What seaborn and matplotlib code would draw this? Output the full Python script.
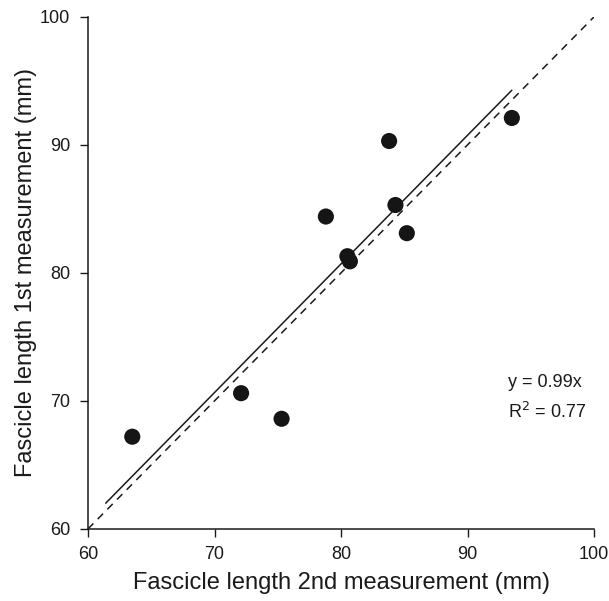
import matplotlib
matplotlib.use("Agg")
import matplotlib.pyplot as plt
import seaborn as sns
import numpy as np
import pandas as pd

# values
second_measure = [63.5, 72.1, 75.3, 78.8, 80.5, 80.7, 83.8, 84.3, 85.2, 93.5]
first_measure = [67.2, 70.6, 68.6, 84.4, 81.3, 80.9, 90.3, 85.3, 83.1, 92.1]
fit_slope = 1.005
fit_intercept = 0.3
fit_range = [61.4, 93.5]
identity_range = [60, 100]
ticks = [60, 70, 80, 90, 100]

sns.set_theme(style="ticks")
plt.rcParams['font.family'] = ['Liberation Sans', 'DejaVu Sans']

df = pd.DataFrame({"second": second_measure, "first": first_measure})

fig = plt.figure(figsize=(6.09, 6.01), dpi=100)
ax = fig.add_axes([0.1445, 0.12, 0.831, 0.852])

fx = np.array(fit_range)
ax.plot(fx, fit_slope * fx + fit_intercept, color="#1a1a1a", lw=1.1)
ax.plot(identity_range, identity_range, color="#1a1a1a", lw=1.1, ls=(0, (5, 4)))
sns.scatterplot(data=df, x="second", y="first", ax=ax, s=135,
                color="#151515", edgecolor="none", zorder=3)

ax.set_xlim(60, 100)
ax.set_ylim(60, 100)
ax.set_xticks(ticks)
ax.set_yticks(ticks)
ax.tick_params(direction="out", length=6, width=1, labelsize=13, colors="#1a1a1a")
ax.tick_params(axis="y", pad=7)
ax.tick_params(axis="x", pad=6)
for side in ["top", "right"]:
    ax.spines[side].set_visible(False)
for side in ["left", "bottom"]:
    ax.spines[side].set_color("#1a1a1a")
    ax.spines[side].set_linewidth(1.1)

ax.set_xlabel("Fascicle length 2nd measurement (mm)", fontsize=17, color="#1a1a1a", labelpad=7)
ax.set_ylabel("Fascicle length 1st measurement (mm)", fontsize=17, color="#1a1a1a", labelpad=2)

ax.text(93.2, 71.4, "y = 0.99x", fontsize=13, va="center", color="#1a1a1a")
ax.text(93.2, 69.1, "R$^2$ = 0.77", fontsize=13, va="center", color="#1a1a1a")

fig.savefig("out.png", dpi=100)
